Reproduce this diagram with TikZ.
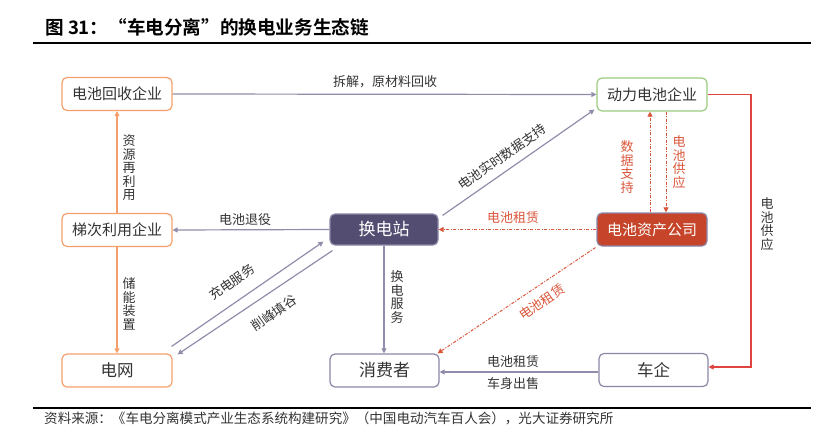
\documentclass[tikz,border=0pt]{standalone}
\usepackage{fontspec}
\setmainfont{Noto Sans CJK SC}
\newfontfamily\cjkb{Noto Sans CJK SC Bold}
\usetikzlibrary{arrows.meta,calc}
\definecolor{orgb}{HTML}{F5A06B}
\definecolor{grnb}{HTML}{9BCB7E}
\definecolor{gryb}{HTML}{8A87A6}
\definecolor{gryl}{HTML}{8F8DAB}
\definecolor{dkfill}{HTML}{544D72}
\definecolor{rdfill}{HTML}{C6452A}
\definecolor{rddash}{HTML}{D9563A}
\definecolor{rdsolid}{HTML}{E0443E}
\definecolor{txt}{HTML}{333333}
\tikzset{
  box/.style={rounded corners=5pt, minimum width=110pt, minimum height=33pt, inner sep=0pt, line width=1.2pt, text=txt, font=\fontsize{15}{18}\selectfont},
  obox/.style={box, draw=orgb, fill=white},
  gbox/.style={box, draw=grnb, fill=white},
  pbox/.style={box, draw=gryb, fill=white},
  ar/.style={-{Triangle[width=5pt,length=5pt]}},
  gline/.style={ar, draw=gryl, line width=1.2pt},
  oline/.style={ar, draw=orgb, line width=1.2pt},
  rdline/.style={ar, draw=rddash, line width=1pt, dash pattern=on 3pt off 1.5pt on 1pt off 1.5pt},
  rsline/.style={ar, draw=rdsolid, line width=1.2pt},
  lbl/.style={text=txt, font=\fontsize{13}{13.5}\selectfont, inner sep=0pt, align=center},
  rlbl/.style={lbl, text=rddash},
}
\begin{document}
\begin{tikzpicture}[x=1pt,y=-1pt]
\useasboundingbox (0,0) rectangle (837,442);
% title
\node[anchor=west, inner sep=0pt, text=black, font=\cjkb\fontsize{18.6}{20}\selectfont] (title) at (45,27) {图 31：“车电分离”的换电业务生态链};
\coordinate (tl1) at (33,43); \coordinate (tl2) at (811,43);
\draw[line width=1.4pt, black] (tl1) -- (tl2);
\coordinate (bl1) at (33,408); \coordinate (bl2) at (811,408);
\draw[line width=1.2pt, black] (bl1) -- (bl2);
\node[anchor=west, inner sep=0pt, text=txt, font=\fontsize{13.55}{16}\selectfont] (src) at (44,418) {资料来源：《车电分离模式产业生态系统构建研究》（中国电动汽车百人会），光大证券研究所};

% nodes
\node[obox] (hs) at (117,94) {电池回收企业};
\node[obox] (td) at (117,230) {梯次利用企业};
\node[obox, font=\fontsize{16.5}{18}\selectfont] (dw) at (117,370.5) {电网};
\node[box, draw=gryb, fill=dkfill, text=white, minimum width=108pt, minimum height=31pt, font=\fontsize{17}{18}\selectfont] (hdz) at (384,229.5) {换电站};
\node[pbox, minimum width=109pt, font=\fontsize{17}{18}\selectfont] (xfz) at (384.5,370.5) {消费者};
\node[gbox] (dl) at (652,94.5) {动力电池企业};
\node[box, draw=gryb, fill=rdfill, text=white] (zc) at (652,229.5) {电池资产公司};
\node[pbox, minimum width=109pt, font=\fontsize{16.5}{18}\selectfont] (cq) at (653.5,370) {车企};

% edges
\draw[gline] (hs.east) -- (dl.west);
\node[lbl] (l1) at (385,82) {拆解，原材料回收};

\draw[oline] (td.north) -- (hs.south);
\node[lbl] (l2) at (129,168) {资\\源\\再\\利\\用};
\draw[oline] (td.south) -- (dw.north);
\node[lbl] (l3) at (129,304) {储\\能\\装\\置};

\draw[gline] (hdz.west) -- (td.east);
\node[lbl] (l4) at (245,220) {电池退役};

\coordinate (c1s) at ($(dw.north east)+(-1,-7)$);
\coordinate (c1e) at ($(hdz.south west)+(-6,-4)$);
\draw[gline] (c1s) -- (c1e);
\node[lbl, rotate=35] (l5) at (232,282) {充电服务};
\coordinate (c2s) at ($(hdz.south west)+(3,5)$);
\coordinate (c2e) at ($(dw.north east)+(5,1)$);
\draw[gline] (c2s) -- (c2e);
\node[lbl, rotate=35] (l6) at (274,313) {削峰填谷};

\draw[gline] (hdz.south) -- (hdz.south |- xfz.north);
\node[lbl] (l7) at (397,297) {换\\电\\服\\务};

\coordinate (c3s) at ($(hdz.north east)+(4,2)$);
\coordinate (c3e) at ($(dl.south west)+(-2,-2)$);
\draw[gline] (c3s) -- (c3e);
\node[lbl, rotate=35] (l8) at (502,157) {电池实时数据支持};

\draw[rdline] (zc.west) -- (hdz.east);
\node[rlbl] (l9) at (513,218) {电池租赁};

\coordinate (c4s) at ($(zc.north)+(-2,0)$);
\draw[rdline] (c4s) -- (c4s |- dl.south);
\node[rlbl] (l10) at (627,167) {数\\据\\支\\持};
\coordinate (c5s) at ($(dl.south)+(14,0)$);
\draw[rdline] (c5s) -- (c5s |- zc.north);
\node[rlbl] (l11) at (679,162) {电\\池\\供\\应};

\coordinate (c6s) at ($(zc.south west)+(-1,1)$);
\coordinate (c6e) at ($(xfz.north east)+(-2,0)$);
\draw[rdline] (c6s) -- (c6e);
\node[rlbl, rotate=34] (l12) at (542,302) {电池租赁};

\coordinate (c7) at ($(cq.east)+(0,-3)$);
\draw[rsline] (dl.east) -- (751,94.5) -- (751,367) -- (c7);
\node[lbl] (l13) at (767,224) {电\\池\\供\\应};

\coordinate (c8s) at ($(cq.west)+(0,2)$);
\draw[gline] (c8s) -- (c8s -| xfz.east);
\node[lbl] (l14) at (513,362) {电池租赁};
\node[lbl] (l15) at (513,384) {车身出售};
\end{tikzpicture}
\end{document}
